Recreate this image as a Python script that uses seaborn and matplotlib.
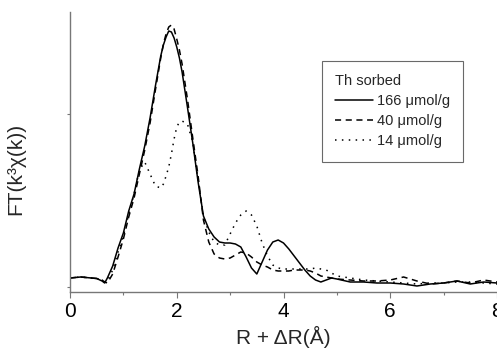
import pandas as pd
import seaborn as sns
import matplotlib.pyplot as plt

# R + dR grid (Angstrom)
r = [0, 0.2, 0.4, 0.5, 0.6, 0.65, 0.7, 0.8, 0.9, 1.0, 1.1, 1.2, 1.3, 1.4, 1.5,
     1.6, 1.7, 1.75, 1.8, 1.85, 1.9, 1.95, 2.0, 2.05, 2.1, 2.2, 2.3, 2.4, 2.5, 2.6,
     2.7, 2.8, 2.9, 3.0, 3.1, 3.2, 3.3, 3.4, 3.5, 3.6, 3.7, 3.8, 3.9, 4.0, 4.1,
     4.2, 4.3, 4.4, 4.5, 4.6, 4.7, 4.8, 4.9, 5.0, 5.25, 5.5, 5.75, 6.0, 6.25, 6.5,
     6.75, 7.0, 7.25, 7.5, 7.75, 8.0]

# FT magnitude (arbitrary units)
ft_166 = [1.4, 1.5, 1.4, 1.35, 1.1, 0.9, 1.4, 2.6, 4.4, 5.9, 8.1, 9.8, 12.3, 14.6, 17.4,
          20.6, 23.6, 24.7, 25.5, 26.1, 26.0, 25.4, 24.5, 23.4, 22.0, 18.5, 14.9, 11.0, 7.6, 6.3,
          5.5, 5.0, 4.9, 4.9, 4.8, 4.5, 3.5, 2.4, 1.8, 3.0, 4.2, 5.0, 5.2, 4.9, 4.3,
          3.6, 2.9, 2.2, 1.6, 1.2, 1.0, 1.2, 1.4, 1.3, 1.0, 1.0, 0.9, 0.9, 0.8, 0.6,
          0.8, 0.9, 1.1, 0.8, 1.0, 0.9]
ft_40 = [1.4, 1.5, 1.4, 1.35, 1.2, 1.0, 0.9, 1.8, 3.5, 5.3, 7.5, 9.4, 11.8, 14.2, 16.9,
         20.2, 23.4, 24.8, 25.8, 26.5, 26.7, 26.3, 25.3, 24.2, 22.8, 19.3, 15.4, 11.6, 7.2, 5.0,
         3.8, 3.4, 3.3, 3.4, 3.7, 4.0, 3.9, 3.5, 3.0, 2.7, 2.5, 2.2, 2.1, 2.1, 2.1,
         2.2, 2.2, 2.2, 2.1, 1.9, 1.6, 1.5, 1.4, 1.3, 1.2, 1.1, 1.1, 1.2, 1.5, 1.1,
         0.8, 0.9, 1.1, 0.9, 1.2, 1.0]
ft_14 = [1.4, 1.5, 1.4, 1.35, 1.15, 1.0, 1.1, 2.2, 4.0, 5.6, 7.8, 9.8, 12.2, 13.0, 11.8,
         10.6, 10.4, 10.8, 11.6, 12.5, 13.8, 15.3, 16.5, 17.0, 17.1, 16.8, 15.0, 11.2, 7.6, 6.0,
         5.0, 4.7, 4.7, 5.8, 6.9, 7.7, 8.1, 7.7, 6.6, 4.9, 3.6, 2.7, 2.4, 2.3, 2.3,
         2.3, 2.3, 2.3, 2.3, 2.4, 2.3, 2.2, 1.9, 1.6, 1.4, 1.2, 1.1, 1.0, 0.9, 0.8,
         0.9, 0.9, 1.0, 1.0, 0.9, 0.8]

labels = ["166 \u03bcmol/g", "40 \u03bcmol/g", "14 \u03bcmol/g"]

df = pd.concat([
    pd.DataFrame({"R": r, "FT": ft_166, "sample": labels[0]}),
    pd.DataFrame({"R": r, "FT": ft_40, "sample": labels[1]}),
    pd.DataFrame({"R": r, "FT": ft_14, "sample": labels[2]}),
])

sns.set_theme(style="ticks")
plt.rcParams["font.family"] = ["Liberation Sans", "DejaVu Sans"]

fig = plt.figure(figsize=(4.97, 3.54), dpi=100)
ax = fig.add_axes([70 / 497, 62 / 354, 427 / 497, 280 / 354])

sns.lineplot(
    data=df, x="R", y="FT", style="sample", style_order=labels,
    dashes={labels[0]: "", labels[1]: (4, 3), labels[2]: (1, 3.5)},
    color="black", linewidth=1.1, errorbar=None, ax=ax,
)

ax.set_xlim(0, 8)
ax.set_ylim(0, 28)
ax.set_xticks([0, 2, 4, 6, 8])
ax.set_xticks([1, 3, 5, 7], minor=True)
ax.set_yticks([0.5, 17.8])
ax.set_yticklabels([])
ax.tick_params(axis="x", which="major", labelsize=15, length=4, width=0.8,
               color="#777777", pad=3, labelcolor="black")
ax.tick_params(axis="x", which="minor", length=2.5, width=0.8, color="#777777")
ax.tick_params(axis="y", length=2, width=0.8, color="#777777")

for side in ["top", "right"]:
    ax.spines[side].set_visible(False)
for side in ["left", "bottom"]:
    ax.spines[side].set_color("#777777")
    ax.spines[side].set_linewidth(1.0)

ax.set_xlabel("R + \u0394R(\u00c5)", fontsize=15, labelpad=4)
ax.set_ylabel("FT(k\u00b3\u03c7(k))", fontsize=15)
ax.yaxis.set_label_coords(-0.105, 0.44)

leg = ax.legend(
    title="Th sorbed", loc="upper left", bbox_to_anchor=(0.59, 0.825),
    borderaxespad=0, fontsize=10.5, title_fontsize=10.5, frameon=True,
    fancybox=False, edgecolor="#444444", handlelength=2.6, handletextpad=0.25,
    labelspacing=0.42, borderpad=0.9, alignment="left",
)
leg.get_frame().set_linewidth(0.8)

fig.savefig("out.png", dpi=100)
